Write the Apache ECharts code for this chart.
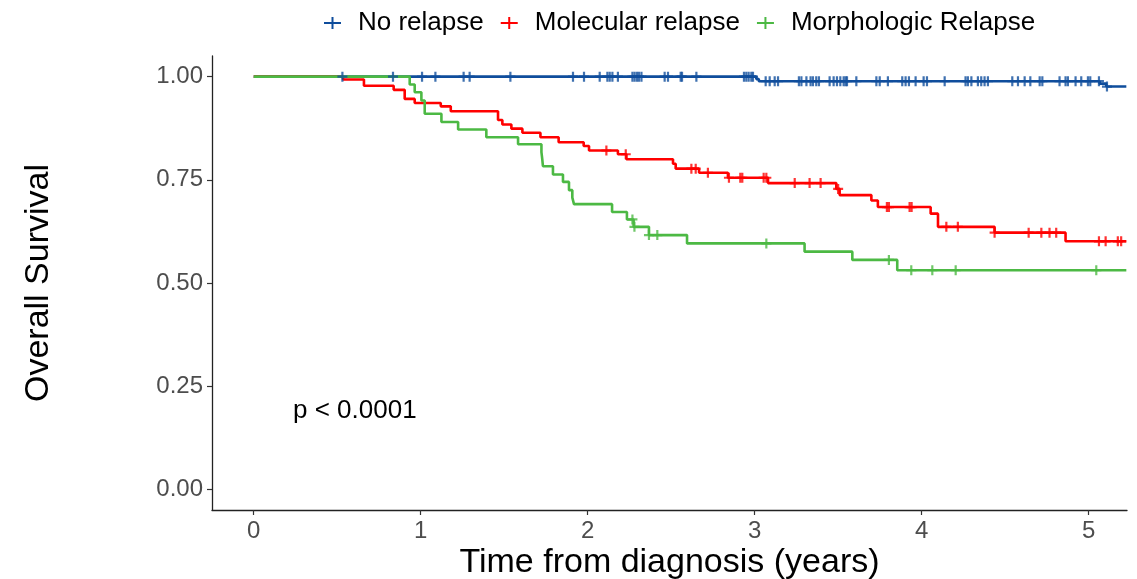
<!DOCTYPE html>
<html>
<head>
<meta charset="utf-8">
<script src="https://cdn.jsdelivr.net/npm/echarts@6/dist/echarts.min.js"></script>
<style>
  html, body { margin: 0; padding: 0; background: #ffffff; }
  #chart { width: 1137px; height: 579px; }
</style>
</head>
<body>
<div id="chart"></div>
<script>
// Group labels and colours
const groupNames = ['No relapse', 'Molecular relapse', 'Morphologic Relapse'];
const groupColors = ['#0f4d9c', '#ff0000', '#4cb944'];

// Kaplan-Meier steps: time (years) and survival from that time onward
const noRelapseTime = [0, 3.010, 3.025, 5.066, 5.106, 5.226];
const noRelapseSurv = [1, 0.994, 0.989, 0.983, 0.976, 0.976];

const molecularTime = [0, 0.535, 0.660, 0.838, 0.904, 0.964, 1.120, 1.180, 1.463, 1.489, 1.543,
  1.609, 1.717, 1.826, 1.976, 2.008, 2.181, 2.232, 2.511, 2.527, 2.667, 2.840, 3.080, 3.489,
  3.509, 3.699, 3.738, 4.054, 4.098, 4.437, 4.862, 5.226];
const molecularSurv = [1, 0.993, 0.978, 0.968, 0.946, 0.936, 0.928, 0.916, 0.895, 0.884, 0.874,
  0.864, 0.853, 0.841, 0.832, 0.821, 0.812, 0.800, 0.789, 0.777, 0.767, 0.755, 0.742, 0.728,
  0.713, 0.700, 0.684, 0.668, 0.636, 0.622, 0.601, 0.601];

const morphologicTime = [0, 0.934, 0.964, 1.004, 1.024, 1.124, 1.224, 1.393, 1.583, 1.723, 1.728,
  1.732, 1.792, 1.852, 1.888, 1.908, 1.918, 2.146, 2.235, 2.275, 2.367, 2.595, 3.299, 3.585,
  3.854, 5.226];
const morphologicSurv = [1, 0.981, 0.962, 0.942, 0.910, 0.890, 0.872, 0.853, 0.836, 0.817, 0.800,
  0.783, 0.763, 0.745, 0.725, 0.707, 0.691, 0.672, 0.654, 0.636, 0.616, 0.596, 0.576, 0.556,
  0.531, 0.531];

// Censoring times (years)
const noRelapseCensor = [0.531, 0.834, 1.008, 1.088, 1.257, 1.293, 1.537, 1.912, 1.978, 2.072,
  2.118, 2.132, 2.148, 2.181, 2.268, 2.281, 2.295, 2.307, 2.322, 2.461, 2.481, 2.557, 2.565,
  2.651, 2.936, 2.950, 2.964, 2.980, 2.990, 3.066, 3.090, 3.120, 3.140, 3.265, 3.280, 3.310,
  3.335, 3.349, 3.369, 3.385, 3.449, 3.473, 3.493, 3.513, 3.533, 3.545, 3.553, 3.609, 3.729,
  3.749, 3.798, 3.884, 3.904, 3.924, 3.964, 4.012, 4.032, 4.138, 4.263, 4.277, 4.298, 4.337,
  4.357, 4.377, 4.397, 4.543, 4.577, 4.617, 4.651, 4.707, 4.723, 4.826, 4.862, 4.876, 4.922,
  4.956, 4.996, 5.010, 5.062, 5.110];
const molecularCensor = [2.112, 2.228, 2.621, 2.647, 2.720, 2.846, 2.914, 2.926, 3.054, 3.070,
  3.240, 3.329, 3.395, 3.500, 3.792, 3.804, 3.928, 3.940, 4.148, 4.217, 4.437, 4.641, 4.717,
  4.766, 4.806, 5.062, 5.102, 5.175, 5.195];
const morphologicCensor = [2.268, 2.280, 2.367, 2.417, 3.070, 3.804, 3.938, 4.064, 4.204, 5.046];

// Axis ticks
const xTicks = [0, 1, 2, 3, 4, 5];
const yTicks = [0, 0.25, 0.5, 0.75, 1];

const pValueText = 'p < 0.0001';

const FONT = '"Liberation Sans", Arial, sans-serif';
// censor mark
const PLUS = 'path://M0,3.9 H10 V6.1 H0 Z M3.9,0 H6.1 V10 H3.9 Z';
// legend key: line segment with a censor mark
const KEY = 'path://M0,5 H17 V7 H0 Z M7.5,0 H9.5 V12 H7.5 Z';

function survivalAt(times, surv, t) {
  let s = surv[0];
  for (let i = 0; i < times.length; i++) {
    if (times[i] <= t) s = surv[i];
  }
  return s;
}

const groups = [
  { time: noRelapseTime, surv: noRelapseSurv, censor: noRelapseCensor },
  { time: molecularTime, surv: molecularSurv, censor: molecularCensor },
  { time: morphologicTime, surv: morphologicSurv, censor: morphologicCensor }
];

const lineSeries = groups.map((g, i) => ({
  name: groupNames[i],
  type: 'line',
  step: 'end',
  showSymbol: false,
  symbol: 'none',
  silent: true,
  z: 2,
  lineStyle: { color: groupColors[i], width: 2.6 },
  itemStyle: { color: groupColors[i] },
  data: g.time.map((t, k) => [t, g.surv[k]])
}));

const censorSeries = groups.map((g, i) => ({
  name: groupNames[i],
  type: 'scatter',
  symbol: PLUS,
  symbolSize: 10,
  silent: true,
  z: 3,
  itemStyle: { color: groupColors[i] },
  data: g.censor.map(t => [t, survivalAt(g.time, g.surv, t)])
}));

const chart = echarts.init(document.getElementById('chart'), null, { renderer: 'canvas' });

chart.setOption({
  animation: false,
  backgroundColor: '#ffffff',
  textStyle: { fontFamily: FONT },
  legend: {
    top: 5,
    left: 319,
    itemWidth: 17,
    itemHeight: 12,
    itemGap: 17,
    selectedMode: false,
    textStyle: { fontFamily: FONT, fontSize: 26, color: '#000000', padding: [0, 0, 0, 12] },
    data: groupNames.map(n => ({ name: n, icon: KEY }))
  },
  grid: { left: 212, right: 10, top: 56, bottom: 69, containLabel: false, outerBoundsMode: 'none' },
  xAxis: {
    type: 'value',
    min: -0.25,
    max: 5.23,
    name: 'Time from diagnosis (years)',
    nameLocation: 'middle',
    nameGap: 36,
    nameMoveOverlap: false,
    nameTextStyle: { fontFamily: FONT, fontSize: 34, color: '#000000' },
    axisLine: { show: true, onZero: false, lineStyle: { color: '#222222', width: 1.3 } },
    axisTick: { show: true, length: 5, customValues: xTicks, lineStyle: { color: '#333333', width: 1.2 } },
    axisLabel: {
      customValues: xTicks,
      margin: 9,
      fontFamily: FONT, fontSize: 24, color: '#4d4d4d',
      formatter: v => String(v)
    },
    splitLine: { show: false }
  },
  yAxis: {
    type: 'value',
    min: -0.05,
    max: 1.05,
    name: 'Overall Survival',
    nameLocation: 'middle',
    nameGap: 156,
    nameRotate: 90,
    nameMoveOverlap: false,
    nameTextStyle: { fontFamily: FONT, fontSize: 34, color: '#000000' },
    axisLine: { show: true, onZero: false, lineStyle: { color: '#222222', width: 1.3 } },
    axisTick: { show: true, length: 5, customValues: yTicks, lineStyle: { color: '#333333', width: 1.2 } },
    axisLabel: {
      customValues: yTicks,
      margin: 9,
      fontFamily: FONT, fontSize: 24, color: '#4d4d4d',
      formatter: v => v.toFixed(2)
    },
    splitLine: { show: false }
  },
  graphic: [{
    type: 'text',
    left: 293,
    top: 398,
    style: { text: pValueText, font: '26px ' + FONT, fill: '#000000' }
  }],
  series: lineSeries.concat(censorSeries)
});
</script>
</body>
</html>
